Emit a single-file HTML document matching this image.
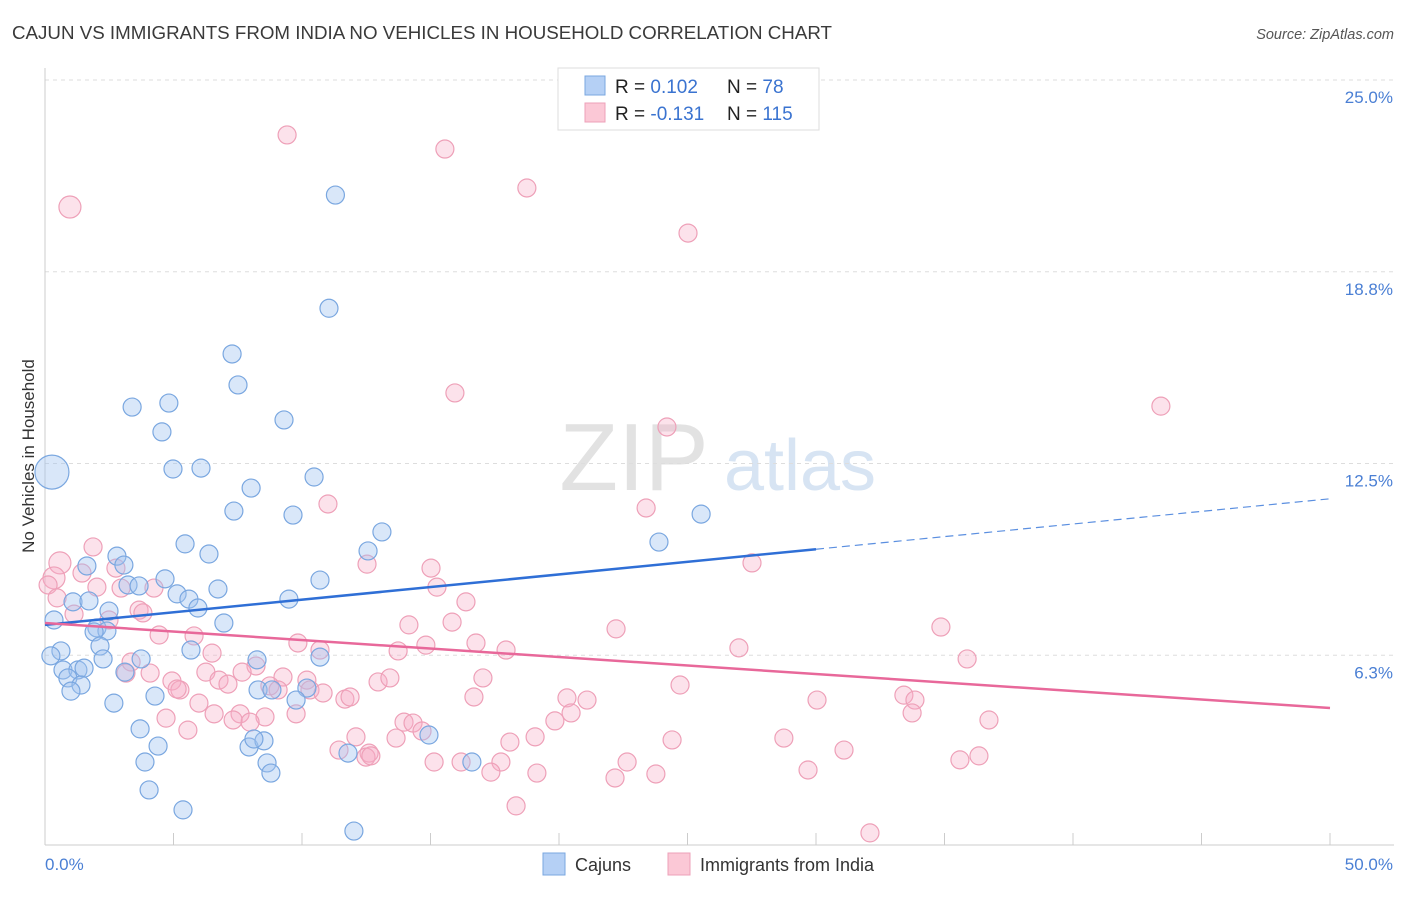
<!DOCTYPE html>
<html><head><meta charset="utf-8">
<style>
body{margin:0;background:#fff;font-family:"Liberation Sans",sans-serif;}
svg text{font-family:"Liberation Sans",sans-serif;}
</style></head>
<body>
<svg id="chart" width="1406" height="892" xmlns="http://www.w3.org/2000/svg">
<text x="12" y="39" font-size="18" fill="#3a3a3a" textLength="820" lengthAdjust="spacingAndGlyphs">CAJUN VS IMMIGRANTS FROM INDIA NO VEHICLES IN HOUSEHOLD CORRELATION CHART</text>
<text x="1394" y="39" font-size="14.5" fill="#555" text-anchor="end" font-style="italic">Source: ZipAtlas.com</text>
<text transform="translate(34,456) rotate(-90)" font-size="17" fill="#333" text-anchor="middle">No Vehicles in Household</text>
<g>
<text x="634" y="490" font-size="96" fill="#e2e2e2" font-family="Liberation Serif" text-anchor="middle">ZIP</text>
<text x="800" y="490" font-size="72" fill="#d7e4f3" text-anchor="middle">atlas</text>
</g>
<g id="grid"></g>
<g id="ticks"></g>
<g id="pinkpts"></g>
<g id="bluepts"></g>
<g id="trends"></g>
<g>
<rect x="558" y="68" width="261" height="62" fill="#fff" stroke="#ddd"/>
<rect x="585" y="76" width="20" height="19" fill="#b5d0f5" stroke="#7aa7e0"/>
<rect x="585" y="103" width="20" height="19" fill="#fbc8d6" stroke="#eea0b8"/>
<text x="615" y="93" font-size="19" fill="#222">R = <tspan fill="#3a73d0"> 0.102</tspan></text>
<text x="727" y="93" font-size="19" fill="#222">N = <tspan fill="#3a73d0"> 78</tspan></text>
<text x="615" y="120" font-size="19" fill="#222">R = <tspan fill="#3a73d0">-0.131</tspan></text>
<text x="727" y="120" font-size="19" fill="#222">N = <tspan fill="#3a73d0">115</tspan></text>
</g>
<g>
<rect x="543" y="853" width="22" height="22" fill="#b5d0f5" stroke="#7aa7e0"/>
<text x="575" y="871" font-size="18" fill="#333">Cajuns</text>
<rect x="668" y="853" width="22" height="22" fill="#fbc8d6" stroke="#eea0b8"/>
<text x="700" y="871" font-size="18" fill="#333">Immigrants from India</text>
</g>
</svg>
<script>
const yTicks=[25,18.75,12.5,6.25];
const yTickLabels=["25.0%","18.8%","12.5%","6.3%"];
const xTickVals=[0,5,10,15,20,25,30,35,40,45,50];
const xEndLabels=["0.0%","50.0%"];
const blueX=[11.3,11.05,7.28,7.51,3.39,4.82,4.55,9.3,4.98,6.07,10.47,8.02,7.35,9.65,13.11,25.53,23.89,5.45,6.38,2.8,3.07,12.57,1.63,4.67,3.23,3.66,6.73,10.7,5.14,5.6,5.95,9.49,1.09,1.71,2.49,0.35,6.96,2.02,2.41,1.91,2.14,0.62,0.23,5.68,2.26,3.74,10.7,8.25,0.7,1.28,1.52,3.11,0.89,1.4,1.01,4.28,8.29,8.83,10.19,9.77,2.68,3.7,4.4,7.94,8.52,8.13,14.94,3.89,8.64,8.79,11.79,16.61,4.05,5.37,12.02,0.27];
const blueY=[21.25,17.56,16.07,15.06,14.34,14.47,13.53,13.92,12.32,12.35,12.06,11.7,10.95,10.82,10.27,10.85,9.94,9.88,9.55,9.48,9.19,9.65,9.16,8.74,8.54,8.51,8.41,8.7,8.25,8.08,7.79,8.08,7.99,8.02,7.69,7.4,7.3,7.14,7.04,7.01,6.55,6.39,6.23,6.42,6.13,6.13,6.19,6.1,5.77,5.77,5.83,5.7,5.51,5.28,5.08,4.92,5.12,5.12,5.18,4.79,4.69,3.85,3.29,3.26,3.46,3.52,3.65,2.77,2.74,2.41,3.06,2.77,1.86,1.21,0.52,12.22];
const blueBig=[75];
const pinkX=[9.42,15.56,18.75,0.97,25.02,15.95,43.42,24.2,11.01,23.39,1.87,0.58,0.35,0.12,1.44,2.76,12.53,15.02,27.51,2.96,4.24,15.25,2.02,16.38,0.47,3.66,1.13,2.49,3.81,15.84,14.16,22.22,34.86,4.44,5.8,9.84,14.82,16.77,17.94,10.7,13.74,27.0,35.88,6.5,3.35,8.21,3.15,4.09,7.67,9.26,6.26,6.77,4.94,12.96,13.42,17.04,10.19,7.12,8.75,5.25,5.14,9.07,10.31,10.82,5.99,11.67,11.87,16.69,20.31,21.09,24.71,30.04,33.42,33.85,6.58,7.59,8.56,9.77,4.71,7.32,7.98,13.97,14.32,20.47,14.67,33.74,36.73,19.84,5.56,19.07,18.09,13.66,12.1,24.4,28.75,11.44,12.61,12.49,12.68,31.09,16.19,17.74,15.14,22.65,36.34,35.6,17.35,19.14,22.18,23.77,29.69,18.33,32.1];
const pinkY=[23.21,22.75,21.48,20.86,20.01,14.8,14.37,13.69,11.18,11.05,9.78,9.26,8.77,8.54,8.93,9.09,9.22,9.09,9.26,8.44,8.44,8.47,8.47,7.99,8.12,7.72,7.59,7.4,7.63,7.33,7.24,7.11,7.17,6.91,6.88,6.65,6.58,6.65,6.42,6.42,6.39,6.49,6.13,6.32,6.03,5.9,5.67,5.67,5.7,5.54,5.7,5.44,5.41,5.38,5.51,5.51,5.44,5.31,5.25,5.12,5.15,5.12,5.12,5.02,4.69,4.82,4.89,4.89,4.86,4.79,5.28,4.79,4.95,4.79,4.34,4.34,4.24,4.34,4.2,4.14,4.07,4.07,4.04,4.37,3.78,4.37,4.14,4.11,3.81,3.59,3.42,3.55,3.59,3.49,3.55,3.16,3.06,2.93,2.97,3.16,2.77,2.77,2.77,2.77,2.97,2.84,2.44,2.41,2.25,2.38,2.51,1.34,0.46];
const pinkBig=[3,11,12];
const blueTrend=[7.24,0.0822,30];
const pinkTrend=[7.3,-0.0554];

const NS="http://www.w3.org/2000/svg";
const X=v=>45+v/50*1285;
const Y=v=>847-v/25*767;
function mk(tag,attrs,parent){const e=document.createElementNS(NS,tag);for(const k in attrs)e.setAttribute(k,attrs[k]);parent.appendChild(e);return e;}
const grid=document.getElementById('grid'),ticks=document.getElementById('ticks');
yTicks.forEach((t,i)=>{
 const l=mk('line',{x1:45,x2:1394,y1:Y(t),y2:Y(t),stroke:'#ddd','stroke-dasharray':'4,4'},grid);
 
 
 const tx=mk('text',{x:1393,y:Y(t)+23,'font-size':17,fill:'#4a7fd4','text-anchor':'end'},ticks);
 tx.textContent=yTickLabels[i];
 
 
});
const ax=mk('line',{x1:45,x2:45,y1:68,y2:845,stroke:'#ccc'},ticks);


const bx=mk('line',{x1:45,x2:1394,y1:845,y2:845,stroke:'#ccc'},ticks);


xTickVals.forEach(v=>{
 const t=mk('line',{x1:X(v),x2:X(v),y1:833,y2:845,stroke:'#ccc'},ticks);
 
 
});
const xl0=mk('text',{x:45,y:870,'font-size':17,fill:'#4a7fd4'},ticks);xl0.textContent=xEndLabels[0];


const xl1=mk('text',{x:1393,y:870,'font-size':17,fill:'#4a7fd4','text-anchor':'end'},ticks);xl1.textContent=xEndLabels[1];


function pts(xs,ys,big,g,fill,stroke,name){
 xs.forEach((x,i)=>{
  const c=mk('circle',{cx:X(x),cy:Y(ys[i]),r:big.includes(i)?(name==='cajun-point'?17:11):9,fill:fill,stroke:stroke,'stroke-width':1.2},g);
  
  
 });
}
pts(pinkX,pinkY,pinkBig,document.getElementById('pinkpts'),'rgba(246,172,198,0.35)','#eea0b8','india-point');
pts(blueX,blueY,blueBig,document.getElementById('bluepts'),'rgba(160,196,240,0.4)','#7aa7e0','cajun-point');
const tr=document.getElementById('trends');
const b1=mk('line',{x1:X(0),y1:Y(blueTrend[0]),x2:X(blueTrend[2]),y2:Y(blueTrend[0]+blueTrend[1]*blueTrend[2]),stroke:'#2f6fd6','stroke-width':2.5},tr);


const b2=mk('line',{x1:X(blueTrend[2]),y1:Y(blueTrend[0]+blueTrend[1]*blueTrend[2]),x2:X(50),y2:Y(blueTrend[0]+blueTrend[1]*50),stroke:'#5b8fe0','stroke-width':1.2,'stroke-dasharray':'8,5'},tr);


const p1=mk('line',{x1:X(0),y1:Y(pinkTrend[0]),x2:X(50),y2:Y(pinkTrend[0]+pinkTrend[1]*50),stroke:'#e8689a','stroke-width':2.5},tr);


</script>
</body></html>
